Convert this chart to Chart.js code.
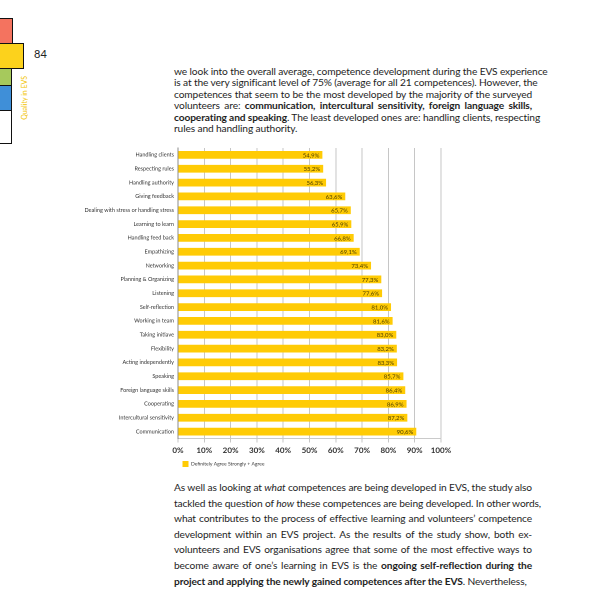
<!DOCTYPE html>
<html>
<head>
<meta charset="utf-8">
<script src="https://cdn.jsdelivr.net/npm/chart.js@4.4.1/dist/chart.umd.min.js"></script>
<style>
  html, body { margin: 0; padding: 0; background: #fff; }
  body { width: 600px; height: 600px; position: relative; overflow: hidden; font-family: Lato, "Open Sans", sans-serif; color: #222; }
  .tab { position: absolute; left: -3px; border: 1.3px solid #111; box-sizing: border-box; }
  .pnum { position: absolute; left: 34px; top: 47px; font-size: 11px; color: #222; }
  .vert { position: absolute; left: 20px; top: 76px; writing-mode: vertical-rl; transform: rotate(180deg); font-size: 7px; line-height: 9px; color: #f2c400; white-space: nowrap; }
  .para { position: absolute; left: 174px; width: 358px; font-size: 10.2px; color: #1e1e1e; letter-spacing: -0.12px; }
  .para div { text-align: justify; text-align-last: justify; white-space: nowrap; overflow: visible; }
  .para div.last { text-align-last: left; }
  #wrap { position: absolute; left: 0; top: 140px; width: 460px; height: 340px; }
</style>
</head>
<body>
<div class="tab" style="top:18px;height:26px;width:16px;background:#f4735f;"></div>
<div class="tab" style="top:43px;height:26px;width:27px;background:#fcd21c;"></div>
<div class="tab" style="top:68px;height:18px;width:15px;background:#a6c95c;"></div>
<div class="tab" style="top:85px;height:26px;width:15px;background:#3f8fd8;"></div>
<div class="tab" style="top:110px;height:34px;width:15px;background:#fff;"></div>
<div class="pnum">84</div>
<div class="vert">Quality in EVS</div>

<div class="para" style="top:66px;line-height:11.4px;">
<div>we look into the overall average, competence development during the EVS experience</div>
<div>is at the very significant level of 75% (average for all 21 competences). However, the</div>
<div>competences that seem to be the most developed by the majority of the surveyed</div>
<div>volunteers are: <b>communication, intercultural sensitivity, foreign language skills,</b></div>
<div><b>cooperating and speaking</b>. The least developed ones are: handling clients, respecting</div>
<div class="last">rules and handling authority.</div>
</div>

<div class="para" style="top:480px;line-height:15.6px;">
<div>As well as looking at <i>what</i> competences are being developed in EVS, the study also</div>
<div>tackled the question of <i>how</i> these competences are being developed. In other words,</div>
<div>what contributes to the process of effective learning and volunteers’ competence</div>
<div>development within an EVS project. As the results of the study show, both ex-</div>
<div>volunteers and EVS organisations agree that some of the most effective ways to</div>
<div>become aware of one’s learning in EVS is the <b>ongoing self-reflection during the</b></div>
<div class="last"><b>project and applying the newly gained competences after the EVS</b>. Nevertheless,</div>
</div>

<div id="wrap"><canvas id="c"></canvas></div>

<script>
const categories = [
  "Handling clients", "Respecting rules", "Handling authority", "Giving feedback",
  "Dealing with stress or handling stress", "Learning to learn", "Handling feed back",
  "Empathizing", "Networking", "Planning & Organizing", "Listening", "Self-reflection",
  "Working in team", "Taking initiave", "Flexibility", "Acting independently", "Speaking",
  "Foreign language skills", "Cooperating", "Intercultural sensitivity", "Communication"
];
const agreeValues = [
  54.9, 55.2, 56.3, 63.6, 65.7, 65.9, 66.8, 69.1, 73.4, 77.3, 77.6, 81.0,
  81.6, 83.0, 83.2, 83.3, 85.7, 86.4, 86.9, 87.2, 90.6
];
const seriesName = "Definitely Agree Strongly + Agree";
const xTicks = [0, 10, 20, 30, 40, 50, 60, 70, 80, 90, 100];

const fmt = v => v.toFixed(1).replace('.', ',') + '%';

const valueLabels = {
  id: 'valueLabels',
  afterDatasetsDraw(chart) {
    const ctx = chart.ctx;
    const meta = chart.getDatasetMeta(0);
    ctx.save();
    ctx.font = '6px Lato, sans-serif';
    ctx.fillStyle = '#4a3c00';
    ctx.textAlign = 'right';
    ctx.textBaseline = 'middle';
    meta.data.forEach((bar, i) => {
      ctx.fillText(fmt(agreeValues[i]), bar.x - 3, bar.y + 0.5);
    });
    ctx.restore();
  }
};

new Chart(document.getElementById('c'), {
  type: 'bar',
  data: {
    labels: categories,
    datasets: [{
      label: seriesName,
      data: agreeValues,
      backgroundColor: '#ffcb05',
      borderWidth: 0,
      barPercentage: 0.56,
      categoryPercentage: 1
    }]
  },
  options: {
    indexAxis: 'y',
    responsive: true,
    maintainAspectRatio: false,
    animation: false,
    devicePixelRatio: 2,
    layout: { padding: { top: 8, right: 19, bottom: 3, left: 0 } },
    plugins: {
      tooltip: { enabled: false },
      legend: {
        position: 'bottom',
        align: 'start',
        fullSize: false,
        labels: {
          boxWidth: 6, boxHeight: 6, padding: 4.5,
          font: { family: 'Lato', size: 5 },
          color: '#333'
        }
      }
    },
    scales: {
      x: {
        min: 0, max: 100,
        afterBuildTicks(scale) { scale.ticks = xTicks.map(v => ({ value: v })); },
        afterFit(scale) { scale.height = 18; },
        ticks: {
          callback: v => v + '%',
          font: { family: 'Lato', size: 8, weight: 'bold' },
          color: '#333',
          padding: 3,
          maxRotation: 0
        },
        grid: { color: '#b8b8b8', lineWidth: 0.8, tickLength: 4 },
        border: { display: true, color: '#b8b8b8', width: 0.8 }
      },
      y: {
        afterFit(scale) { scale.width = 178; },
        ticks: {
          font: { family: 'Lato', size: 5.5 },
          color: '#333',
          padding: 4,
          autoSkip: false
        },
        grid: { display: false, drawTicks: false },
        border: { display: true, color: '#8a8a8a', width: 1 }
      }
    }
  },
  plugins: [valueLabels]
});
</script>
</body>
</html>
